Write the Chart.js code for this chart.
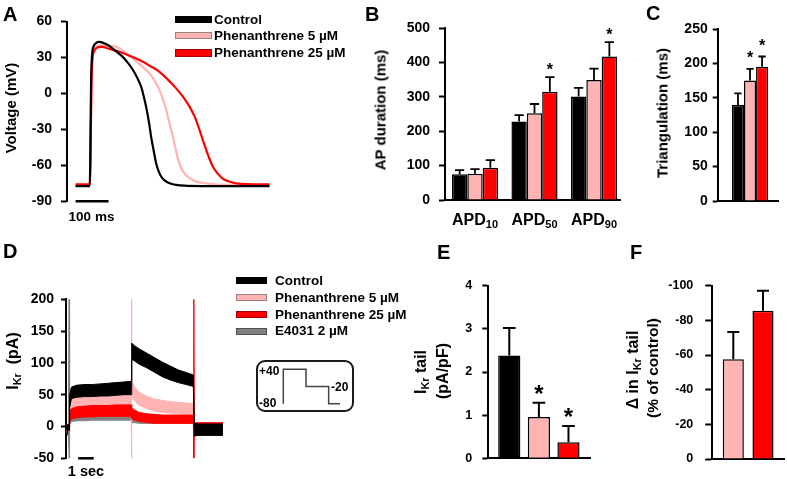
<!DOCTYPE html>
<html><head><meta charset="utf-8">
<script src="https://cdn.jsdelivr.net/npm/chart.js@4.4.1/dist/chart.umd.min.js"></script>
<style>
html,body{margin:0;padding:0;background:#fff;}
#fig{position:relative;width:787px;height:479px;overflow:hidden;background:#fff;font-family:"Liberation Sans",Arial,sans-serif;font-weight:bold;color:#000;}
canvas{position:absolute;}
.t{position:absolute;white-space:nowrap;line-height:1;}
.lab{font-size:20px;}
.leg{font-size:13.5px;}
.box{position:absolute;box-sizing:border-box;}
.rot{position:absolute;white-space:nowrap;line-height:1;transform:translate(-50%,-50%) rotate(-90deg);}
.ctr{position:absolute;white-space:nowrap;line-height:1;transform:translate(-50%,-50%);}
sub{font-size:0.68em;vertical-align:baseline;position:relative;top:0.28em;line-height:0;}
</style></head><body>
<div id="fig">
  <canvas id="cA" width="290" height="232" style="left:0px;top:0px"></canvas>
  <canvas id="cB" width="270" height="235" style="left:360px;top:0px"></canvas>
  <canvas id="cC" width="147" height="235" style="left:640px;top:0px"></canvas>
  <canvas id="cD" width="240" height="239" style="left:0px;top:240px"></canvas>
  <canvas id="cE" width="200" height="204" style="left:395px;top:275px"></canvas>
  <canvas id="cF" width="187" height="204" style="left:600px;top:275px"></canvas>
  <div class="box" style="left:256px;top:360px;width:98px;height:52px;border:2px solid #1a1a1a;border-radius:9px;"></div>
  <canvas id="cP" width="68" height="44" style="left:278px;top:364px"></canvas>

  <!-- panel letters -->
  <div class="t lab" style="left:3px;top:4.4px">A</div>
  <div class="t lab" style="left:365px;top:3.6px">B</div>
  <div class="t lab" style="left:646px;top:3px">C</div>
  <div class="t lab" style="left:3px;top:241px">D</div>
  <div class="t lab" style="left:437px;top:242px">E</div>
  <div class="t lab" style="left:630px;top:242px">F</div>

  <!-- axis titles -->
  <div class="rot" style="left:10px;top:108px;font-size:15px">Voltage (mV)</div>
  <div class="rot" style="left:380px;top:110px;font-size:15px">AP duration (ms)</div>
  <div class="rot" style="left:662px;top:112.5px;font-size:15px">Triangulation (ms)</div>
  <div class="rot" style="left:13px;top:361px;font-size:16px">I<sub>Kr</sub>&nbsp;&nbsp;(pA)</div>
  <div class="rot" style="left:421px;top:371.5px;font-size:16px">I<sub>Kr</sub> tail</div>
  <div class="rot" style="left:443.4px;top:370.8px;font-size:16px">(pA/pF)</div>
  <div class="rot" style="left:633px;top:370px;font-size:16px">Δ in I<sub>Kr</sub> tail</div>
  <div class="rot" style="left:652.5px;top:368px;font-size:15.5px">(% of control)</div>

  <!-- scale bar labels -->
  <div class="ctr" style="left:91.5px;top:217px;font-size:13.5px">100 ms</div>
  <div class="ctr" style="left:86px;top:471px;font-size:14.5px">1 sec</div>

  <!-- legend A -->
  <div class="box" style="left:175px;top:16px;width:37px;height:7px;background:#000"></div>
  <div class="t leg" style="left:214px;top:12.7px">Control</div>
  <div class="box" style="left:175px;top:31.7px;width:37px;height:7.5px;background:#ffb3b3;border:1px solid #9a8080"></div>
  <div class="t leg" style="left:214px;top:28.7px">Phenanthrene 5 µM</div>
  <div class="box" style="left:175px;top:49.3px;width:37px;height:7.5px;background:#ff0000;border:1px solid #a00000"></div>
  <div class="t leg" style="left:214px;top:45.7px">Phenanthrene 25 µM</div>

  <!-- legend D -->
  <div class="box" style="left:236px;top:277.3px;width:31px;height:7px;background:#000"></div>
  <div class="t leg" style="left:275px;top:274.4px">Control</div>
  <div class="box" style="left:236px;top:294.3px;width:31px;height:7px;background:#ffb3b3;border:1px solid #9a8080"></div>
  <div class="t leg" style="left:275px;top:291.1px">Phenanthrene 5 µM</div>
  <div class="box" style="left:236px;top:311px;width:31px;height:7px;background:#ff0000;border:1px solid #a00000"></div>
  <div class="t leg" style="left:275px;top:307.7px">Phenanthrene 25 µM</div>
  <div class="box" style="left:236px;top:327.7px;width:31px;height:7px;background:#808080;border:1px solid #505050"></div>
  <div class="t leg" style="left:275px;top:324.4px">E4031 2 µM</div>

  <!-- protocol labels -->
  <div class="t" style="left:259px;top:365.1px;font-size:12px">+40</div>
  <div class="t" style="left:259px;top:397.1px;font-size:12px">-80</div>
  <div class="t" style="left:331px;top:381.1px;font-size:12px">-20</div>
</div>
<script>
// ================= DATA =================
// Panel A: action potentials (time ms, voltage mV)
const aCtrlTime = [0, 43, 45, 47, 50, 55, 62, 72, 85, 103, 123, 143, 160, 174, 187, 199, 208, 216, 223, 229, 237, 244, 252, 260, 270, 285, 305, 330, 380, 450, 588];
const aCtrlVolt = [-77.3, -77.3, -40, 10, 32, 39.5, 42, 43, 42, 39.5, 35, 30.5, 25, 19.5, 13, 5.5, -4, -14, -25, -36, -48, -58, -65, -69.5, -72.5, -75, -76.3, -77, -77.3, -77.3, -77.3];
const aP5Time = [0, 44, 46, 48, 51, 56, 64, 78, 100, 123, 150, 174, 200, 224, 240, 254.5, 265, 275, 285, 295, 303, 310, 320, 330, 345, 366, 395, 426, 480, 588];
const aP5Volt = [-76.4, -76.4, -40, 8, 30, 37, 39.5, 40.3, 39.8, 38.9, 34.5, 29, 23, 16.7, 10.5, 2.8, -5, -14, -25, -36, -46, -54, -62, -66.7, -70.5, -73.6, -75, -75.9, -76.3, -76.4];
const aP25Time = [0, 44, 46, 48, 51, 56, 64, 78, 105, 133, 165, 194, 225, 254.5, 280, 305, 325, 345.5, 362, 376, 386, 396, 406, 416, 430, 446, 465, 487, 520, 588];
const aP25Volt = [-75.9, -75.9, -40, 6, 28, 35, 38, 38.9, 37, 34.7, 31.3, 27.8, 23, 18, 11.5, 4.2, -2.5, -11, -20, -30.6, -39, -47, -54.5, -61, -66.5, -71, -73.5, -75, -75.7, -75.9];
const aScaleBarTime = [0, 100];
const aScaleBarVolt = [-90, -90];
const aTicks = [-90, -60, -30, 0, 30, 60];

// Panel B: AP duration (ms)
const bCategories = [['APD', '10'], ['APD', '50'], ['APD', '90']];
const bCtrl = [75, 228, 301];
const bCtrlErr = [87, 247, 326];
const bP5 = [76, 252, 349];
const bP5Err = [90, 279, 382];
const bP25 = [94, 315, 417];
const bP25Err = [116, 357, 459];
const bP25Sig = [false, true, true];
const bTicks = [0, 100, 200, 300, 400, 500];

// Panel C: triangulation (ms)
const cCtrl = [139.5], cCtrlErr = [156.5];
const cP5 = [175], cP5Err = [192], cP5Sig = [true];
const cP25 = [195], cP25Err = [210], cP25Sig = [true];
const cTicks = [0, 50, 100, 150, 200, 250];

// Panel D: IKr current traces (time s, envelope of the noisy trace in pA)
const dTime = [-0.15, -0.05, 0, 0.03, 0.15, 0.5, 1, 1.5, 2, 2.5, 3, 3.5, 3.97, 4, 4.03, 4.2, 4.5, 5, 5.5, 6, 6.5, 7, 7.5, 7.97, 8, 8.03, 8.3, 9, 9.5, 9.87];
const dCtrlHi = [2, 3, 4, 50, 62, 65, 66, 66, 67, 68, 69, 70, 71, 131, 131, 127, 122, 115, 108, 101, 95, 89, 85, 81, 81, 5, 4, 4, 4, 4];
const dCtrlLo = [-15, -4, -6, 30, 44, 46, 47, 47, 48, 48, 49, 50, 50, 106, 106, 103, 98, 92, 85, 78, 73, 69, 66, 63, 63, -15, -14, -14, -14, -14];
const dP5Hi = [2, 3, 3, 35, 45, 47, 48, 48, 49, 49, 50, 50, 50, 200, 72, 62, 54, 47, 43, 41, 39, 38, 37, 36, 36, 5, 5, 5, 5, 5];
const dP5Lo = [-10, -4, -4, 20, 28, 29, 30, 30, 31, 31, 32, 32, 32, -50, 48, 40, 33, 28, 24, 22, 21, 20, 19, 18, 18, -10, -10, -10, -10, -10];
const dP25Hi = [3, 3, 3, 22, 28, 31, 32, 33, 33, 33, 34, 34, 34, 29, 29, 26, 22, 20, 19, 18, 18, 18, 18, 18, 200, 6, 6, 6, 6, 6];
const dP25Lo = [-8, -3, -3, 8, 12, 14, 15, 15, 16, 16, 16, 16, 16, 12, 12, 10, 8, 6, 5, 5, 5, 5, 5, 5, -50, -8, -8, -8, -8, -8];
const dE4031Hi = [2, 2, 200, 15, 20, 22, 22, 23, 23, 23, 24, 24, 24, 17, 17, 16, 15, 15, 14, 14, 14, 14, 14, 14, 14, 3, 3, 3, 3, 3];
const dE4031Lo = [-8, -3, -50, 3, 8, 9, 9, 10, 10, 10, 10, 10, 10, 6, 6, 6, 5, 5, 5, 5, 5, 5, 5, 5, 5, -10, -10, -10, -10, -10];
const dScaleBarTime = [0.58, 1.58];
const dScaleBarCurr = [-50, -50];
const dTicks = [-50, 0, 50, 100, 150, 200];

// Voltage protocol (inset)
const protoTime = [0, 0, 4, 4, 8, 8, 10];
const protoVolt = [-80, 40, 40, -20, -20, -80, -80];

// Panel E: IKr tail density (pA/pF)
const eGroups = ['Control', 'Phenanthrene 5 µM', 'Phenanthrene 25 µM'];
const eVals = [2.38, 0.96, 0.37];
const eErr = [3.02, 1.29, 0.75];
const eSig = [false, true, true];
const eTicks = [0, 1, 2, 3, 4];

// Panel F: change in IKr tail (% of control)
const fGroups = ['Phenanthrene 5 µM', 'Phenanthrene 25 µM'];
const fVals = [-57.5, -85.6];
const fErr = [-73.3, -97.1];
const fTicks = [-100, -80, -60, -40, -20, 0];

// ================= STYLE =================
const FONT = '"Liberation Sans", Arial, sans-serif';
Chart.defaults.font.family = FONT;
Chart.defaults.font.weight = 'bold';
Chart.defaults.color = '#000';
const COL = { ctrl: '#000000', p5: '#ffb3b3', p25: '#ff0000', e4031: '#808080' };
const Y_W = 45;

function zeroPad(s) { s.paddingTop = 0; s.paddingBottom = 0; s.paddingLeft = 0; s.paddingRight = 0; }
function yAxis(o) {
  return {
    type: 'linear', position: 'left', min: o.min, max: o.max, reverse: !!o.reverse,
    ticks: { font: { size: o.fs, weight: 'bold', family: FONT }, color: '#000', padding: o.pad },
    grid: { display: true, drawOnChartArea: false, drawTicks: true, tickLength: o.tl, tickWidth: 2, tickColor: '#000' },
    border: { display: true, color: '#000', width: 2 },
    afterBuildTicks: (s) => { s.ticks = o.ticks.map(v => ({ value: v })); },
    afterFit: (s) => { s.width = Y_W; zeroPad(s); }
  };
}
function xHidden(min, max) {
  return { type: 'linear', min, max, display: false };
}
function xBar(min, max, tickVals, height) {
  return {
    type: 'linear', min, max, offset: false, z: 1,
    grid: { display: false }, ticks: { display: false },
    border: { display: true, color: '#000', width: 2 },
    afterBuildTicks: (s) => { s.ticks = tickVals.map(v => ({ value: v })); },
    afterFit: (s) => { s.height = height; zeroPad(s); }
  };
}
function baseOpts(pad) {
  return {
    responsive: false, animation: false, devicePixelRatio: 1, events: [],
    layout: { padding: pad },
    plugins: { legend: { display: false }, tooltip: { enabled: false } }
  };
}
function xy(xs, ys) { return xs.map((x, i) => ({ x, y: ys[i] })); }
function idx(vals) { return vals.map((v, i) => ({ x: i + 1, y: v })); }

function errorPlugin(cfg) {
  return {
    id: 'errbars',
    afterDatasetsDraw(chart) {
      const ctx = chart.ctx, ys = chart.scales.y;
      ctx.save();
      chart.data.datasets.forEach((ds, di) => {
        if (!ds.err) return;
        const meta = chart.getDatasetMeta(di);
        meta.data.forEach((bar, i) => {
          const top = ys.getPixelForValue(ds.err[i]);
          const half = bar.width * cfg.cap / 2;
          ctx.strokeStyle = '#000'; ctx.lineWidth = cfg.lw; ctx.lineCap = 'butt';
          ctx.beginPath();
          ctx.moveTo(bar.x, bar.y); ctx.lineTo(bar.x, top);
          ctx.moveTo(bar.x - half, top); ctx.lineTo(bar.x + half, top);
          ctx.stroke();
          if (ds.sig && ds.sig[i]) {
            ctx.font = 'bold ' + cfg.star + 'px ' + FONT;
            ctx.textAlign = 'center'; ctx.textBaseline = 'alphabetic'; ctx.fillStyle = '#000';
            ctx.fillText('*', bar.x, top - cfg.lift + 0.58 * cfg.star);
          }
        });
      });
      ctx.restore();
    }
  };
}
function subLabelPlugin(labels, cfg) {
  return {
    id: 'sublabels',
    afterDraw(chart) {
      const ctx = chart.ctx, xs = chart.scales.x;
      ctx.save(); ctx.fillStyle = '#000'; ctx.textBaseline = 'alphabetic'; ctx.textAlign = 'left';
      labels.forEach((lab, i) => {
        const cx = xs.getPixelForValue(i + 1);
        ctx.font = 'bold ' + cfg.size + 'px ' + FONT; const w1 = ctx.measureText(lab[0]).width;
        ctx.font = 'bold ' + cfg.sub + 'px ' + FONT; const w2 = ctx.measureText(lab[1]).width;
        const x0 = cx - (w1 + w2) / 2;
        ctx.font = 'bold ' + cfg.size + 'px ' + FONT; ctx.fillText(lab[0], x0, cfg.base);
        ctx.font = 'bold ' + cfg.sub + 'px ' + FONT; ctx.fillText(lab[1], x0 + w1, cfg.base + cfg.drop);
      });
      ctx.restore();
    }
  };
}
function barDs(label, vals, err, color, sig) {
  return { label, data: idx(vals), err, sig, backgroundColor: color, borderColor: '#000', borderWidth: 1.5 };
}
function band(label, hi, lo, color) {
  return [
    { label, data: xy(dTime, hi), borderColor: color, backgroundColor: color, fill: '+1', borderWidth: 1, pointRadius: 0, tension: 0 },
    { label: label + ' lower', data: xy(dTime, lo), borderColor: color, backgroundColor: color, fill: false, borderWidth: 1, pointRadius: 0, tension: 0 }
  ];
}

// ================= PANEL A =================
(function () {
  const o = baseOpts({ left: 67 - Y_W, top: 21.5, right: 19.5, bottom: 30.7 });
  o.scales = { x: xHidden(-26, 591), y: yAxis({ min: -90, max: 60, ticks: aTicks, fs: 14, pad: 9, tl: 6 }) };
  const line = (label, t, v, c, w) => ({ label, data: xy(t, v), borderColor: c, borderWidth: w, pointRadius: 0, cubicInterpolationMode: 'monotone', fill: false });
  new Chart(document.getElementById('cA'), {
    type: 'line',
    data: { datasets: [
      { label: '100 ms', data: xy(aScaleBarTime, aScaleBarVolt), borderColor: '#000', borderWidth: 2.5, pointRadius: 0, clip: false },
      line('Control', aCtrlTime, aCtrlVolt, COL.ctrl, 2.2),
      line('Phenanthrene 25 µM', aP25Time, aP25Volt, COL.p25, 2.2),
      line('Phenanthrene 5 µM', aP5Time, aP5Volt, COL.p5, 2.2)
    ] },
    options: o
  });
})();

// ================= PANEL B =================
(function () {
  const o = baseOpts({ left: 445 - 360 - Y_W, top: 28, right: 10, bottom: 0 });
  o.datasets = { bar: { categoryPercentage: 0.775, barPercentage: 1 } };
  o.scales = { x: xBar(0.496, 3.437, [1, 2, 3], 35), y: yAxis({ min: 0, max: 500, ticks: bTicks, fs: 14, pad: 9, tl: 6 }) };
  new Chart(document.getElementById('cB'), {
    type: 'bar',
    data: { datasets: [
      barDs('Control', bCtrl, bCtrlErr, COL.ctrl),
      barDs('Phenanthrene 5 µM', bP5, bP5Err, COL.p5),
      barDs('Phenanthrene 25 µM', bP25, bP25Err, COL.p25, bP25Sig)
    ] },
    options: o,
    plugins: [errorPlugin({ lw: 1.8, cap: 0.6, star: 16, lift: 11 }), subLabelPlugin(bCategories, { size: 16, sub: 11, base: 224.8, drop: 2.7 })]
  });
})();

// ================= PANEL C =================
(function () {
  const o = baseOpts({ left: 717.7 - 640 - Y_W, top: 29, right: 9, bottom: 0 });
  o.datasets = { bar: { categoryPercentage: 0.6, barPercentage: 1 } };
  o.scales = { x: xBar(0.464, 1.464, [1], 34), y: yAxis({ min: 0, max: 250, ticks: cTicks, fs: 14, pad: 5, tl: 5 }) };
  new Chart(document.getElementById('cC'), {
    type: 'bar',
    data: { datasets: [
      barDs('Control', cCtrl, cCtrlErr, COL.ctrl),
      barDs('Phenanthrene 5 µM', cP5, cP5Err, COL.p5, cP5Sig),
      barDs('Phenanthrene 25 µM', cP25, cP25Err, COL.p25, cP25Sig)
    ] },
    options: o,
    plugins: [errorPlugin({ lw: 1.8, cap: 0.6, star: 16, lift: 15 })]
  });
})();

// ================= PANEL D =================
(function () {
  const o = baseOpts({ left: 66 - Y_W, top: 59.3, right: 15, bottom: 20.7 });
  o.scales = { x: xHidden(-0.2, 10), y: yAxis({ min: -50, max: 200, ticks: dTicks, fs: 14, pad: 7, tl: 5 }) };
  new Chart(document.getElementById('cD'), {
    type: 'line',
    data: { datasets: [
      { label: '1 sec', data: xy(dScaleBarTime, dScaleBarCurr), borderColor: '#000', borderWidth: 2.5, pointRadius: 0, clip: false, fill: false },
      ...band('Control', dCtrlHi, dCtrlLo, COL.ctrl),
      ...band('Phenanthrene 25 µM', dP25Hi, dP25Lo, COL.p25),
      ...band('Phenanthrene 5 µM', dP5Hi, dP5Lo, COL.p5),
      ...band('E4031 2 µM', dE4031Hi, dE4031Lo, COL.e4031)
    ] },
    options: o
  });
})();

// ================= PROTOCOL INSET =================
(function () {
  const o = baseOpts({ left: 5.3, top: 5.3, right: 6, bottom: 4.3 });
  o.scales = { x: xHidden(0, 10), y: { type: 'linear', min: -80, max: 40, display: false } };
  new Chart(document.getElementById('cP'), {
    type: 'line',
    data: { datasets: [{ label: 'Protocol', data: xy(protoTime, protoVolt), borderColor: '#444', borderWidth: 1.5, pointRadius: 0, tension: 0, clip: false }] },
    options: o
  });
})();

// ================= PANEL E =================
(function () {
  const o = baseOpts({ left: 488.3 - 395 - Y_W, top: 10.7, right: 5, bottom: 0 });
  o.datasets = { bar: { categoryPercentage: 1, barPercentage: 0.75 } };
  o.scales = { x: xBar(0.291, 3.727, [1, 2, 3], 20.7), y: yAxis({ min: 0, max: 4, ticks: eTicks, fs: 12.5, pad: 10, tl: 6 }) };
  new Chart(document.getElementById('cE'), {
    type: 'bar',
    data: { datasets: [{ label: 'IKr tail', data: idx(eVals), err: eErr, sig: eSig,
      backgroundColor: [COL.ctrl, COL.p5, COL.p25], borderColor: '#000', borderWidth: 1.5 }] },
    options: o,
    plugins: [errorPlugin({ lw: 2, cap: 0.57, star: 24, lift: 14.5 })]
  });
})();

// ================= PANEL F =================
(function () {
  const o = baseOpts({ left: 712.3 - 600 - Y_W, top: 10.7, right: 3, bottom: 0 });
  o.datasets = { bar: { categoryPercentage: 1, barPercentage: 0.71 } };
  o.scales = { x: xBar(0.293, 2.707, [1, 2], 20), y: yAxis({ min: -100, max: 0, reverse: true, ticks: fTicks, fs: 12.5, pad: 12, tl: 7 }) };
  new Chart(document.getElementById('cF'), {
    type: 'bar',
    data: { datasets: [{ label: 'Δ IKr tail', data: idx(fVals), err: fErr,
      backgroundColor: [COL.p5, COL.p25], borderColor: '#000', borderWidth: 1.5 }] },
    options: o,
    plugins: [errorPlugin({ lw: 2, cap: 0.57, star: 24, lift: 14.5 })]
  });
})();
</script>
</body></html>
